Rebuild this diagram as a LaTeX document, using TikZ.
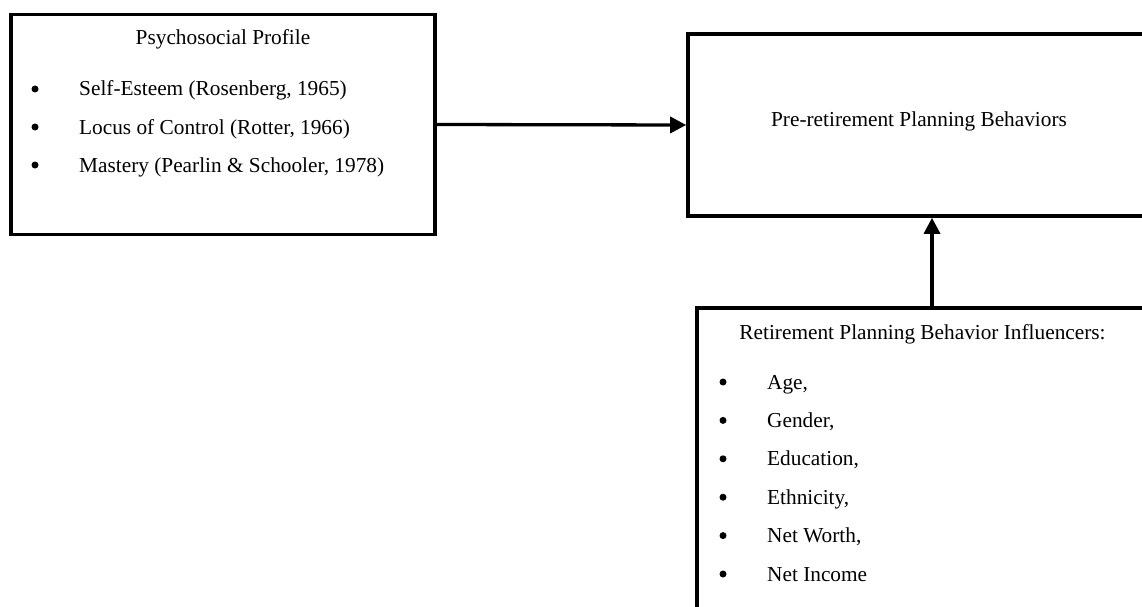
\documentclass[tikz,border=0pt]{standalone}
\usepackage{fontspec}
\setmainfont{Liberation Serif}
\usetikzlibrary{arrows.meta}
\tikzset{
  frame/.style={draw=black, line width=3.6pt, rectangle, inner sep=0pt},
  txt/.style={inner sep=0pt, font=\fontsize{21.3}{25}\selectfont, text=black},
  itm/.style={txt, anchor=base west},
  bul/.style={circle, fill=black, inner sep=0pt, minimum size=7pt},
  conn/.style={line width=3.3pt, -{Triangle[length=16pt,width=16pt]}},
}
\begin{document}
\begin{tikzpicture}[x=1pt,y=-1pt]
\useasboundingbox (0,0) rectangle (1142,607);
\clip (0,0) rectangle (1142,607);
\fill[white] (0,0) rectangle (1142,607);
% boxes
\node[frame, minimum width=424pt, minimum height=220pt] (b1) at (223,124.5) {};
\node[frame, minimum width=462pt, minimum height=182pt] (b2) at (919,125) {};
\node[frame, minimum width=451pt, minimum height=332pt] (b3) at (922.5,474) {};
% box 1 texts
\node[txt, anchor=base] (t1) at (223,45) {Psychosocial Profile};
\node[bul] (p1) at (35,89) {};
\node[itm] (i1) at (79,96) {Self-Esteem (Rosenberg, 1965)};
\node[bul] (p2) at (35,127) {};
\node[itm] (i2) at (79,134) {Locus of Control (Rotter, 1966)};
\node[bul] (p3) at (35,165) {};
\node[itm] (i3) at (79,172) {Mastery (Pearlin \& Schooler, 1978)};
% box 2 text
\node[txt, anchor=base] (t2) at (919,127) {Pre-retirement Planning Behaviors};
% box 3 texts
\node[txt, anchor=base] (t3) at (922.5,339) {Retirement Planning Behavior Influencers:};
\node[bul] (q1) at (723,382) {};
\node[itm] (j1) at (767,389) {Age,};
\node[bul] (q2) at (723,420.4) {};
\node[itm] (j2) at (767,427.4) {Gender,};
\node[bul] (q3) at (723,458.8) {};
\node[itm] (j3) at (767,465.8) {Education,};
\node[bul] (q4) at (723,497.2) {};
\node[itm] (j4) at (767,504.2) {Ethnicity,};
\node[bul] (q5) at (723,535.6) {};
\node[itm] (j5) at (767,542.6) {Net Worth,};
\node[bul] (q6) at (723,574) {};
\node[itm] (j6) at (767,581) {Net Income};
% connectors
\coordinate (ax) at (932,0);
\draw[conn] (b1.east) -- (b2.west);
\draw[conn] (b3.north -| ax) -- (b2.south -| ax);
\end{tikzpicture}
\end{document}
